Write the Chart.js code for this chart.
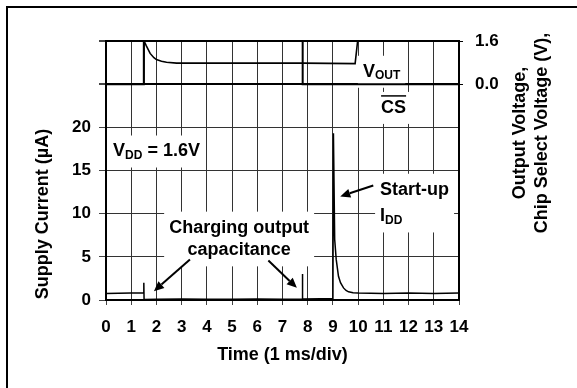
<!DOCTYPE html>
<html>
<head>
<meta charset="utf-8">
<title>Start-up Supply Current</title>
<script src="https://cdn.jsdelivr.net/npm/chart.js@4/dist/chart.umd.min.js"></script>
<style>
  html, body { margin: 0; padding: 0; background: #fff; }
  #wrap { position: relative; width: 577px; height: 388px; }
</style>
</head>
<body>
<div id="wrap"><canvas id="startupChart" width="577" height="388"></canvas></div>
<script>
// axis ticks
const timeTicks = [0, 1, 2, 3, 4, 5, 6, 7, 8, 9, 10, 11, 12, 13, 14];
const currentTicks = [0, 5, 10, 15, 20];
const voltageTicks = [0.0, 1.6];

// supply current (uA) vs time (ms)
const currentTime = [0, 0.5, 1.0, 1.2, 1.49, 1.5, 1.51, 2, 3, 4, 5, 6, 7, 7.78, 7.79, 7.8,
  8.5, 9.0, 9.02, 9.07, 9.13, 9.22, 9.3, 9.42, 9.52, 9.62, 9.8, 10, 11, 12, 13, 14];
const supplyCurrent = [0.75, 0.78, 0.82, 0.8, 0.8, 2.0, 0.05, 0.08, 0.12, 0.1, 0.1, 0.12, 0.08, 0.1, 3.0, 0.12,
  0.15, 0.18, 19.3, 7.0, 4.7, 2.75, 2.0, 1.4, 1.1, 0.95, 0.85, 0.8, 0.75, 0.8, 0.76, 0.8];

// output voltage (V)
const voutTime = [0, 1.5, 1.51, 1.6, 1.75, 1.9, 2.0, 2.2, 2.4, 2.8, 7.8, 9.88, 9.98, 14];
const outputVoltage = [0, 0, 1.6, 1.42, 1.14, 0.98, 0.91, 0.85, 0.81, 0.78, 0.78, 0.76, 1.6, 1.6];

// chip select (V)
const csTime = [0, 1.5, 1.5, 7.8, 7.8, 14];
const chipSelect = [0, 0, 1.6, 1.6, 0, 0];

const FONT = '"Liberation Sans", Arial, Helvetica, sans-serif';
const GRID = '#333333';

// text notes: [text, size, dy] runs per line, position in data units
const notes = [
  { x: 0.28, y: 17.2, scale: 'y', align: 'left', lead: 0,
    lines: [[['V', 18], ['DD', 12, 4], [' = 1.6V', 18]]] },
  { x: 5.28, y: 8.38, scale: 'y', align: 'center', lead: 22.7,
    lines: [[['Charging output', 18]], [['capacitance', 18]]] },
  { x: 10.87, y: 12.77, scale: 'y', align: 'left', lead: 26.7,
    lines: [[['Start-up', 18]], [['I', 18], ['DD', 12, 4]]] },
  { x: 10.19, y: 0.46, scale: 'y2', align: 'left', lead: 0,
    lines: [[['V', 18], ['OUT', 12, 4]]] },
  { x: 10.91, y: -0.88, scale: 'y2', align: 'left', lead: 0, overline: true,
    lines: [[['CS', 18]]] }
];

const arrows = [
  { from: [10.6, 13.27], to: [9.29, 12.0] },
  { from: [3.33, 4.68], to: [1.9, 1.02] },
  { from: [6.44, 4.57], to: [7.57, 1.41] }
];

function runWidth(ctx, runs) {
  let w = 0;
  runs.forEach(r => {
    ctx.font = `bold ${r[1]}px ${FONT}`;
    w += ctx.measureText(r[0]).width;
  });
  return w;
}

function noteLayout(chart, ctx, n) {
  const px = chart.scales.x.getPixelForValue(n.x);
  const py = chart.scales[n.scale].getPixelForValue(n.y);
  const widths = n.lines.map(l => runWidth(ctx, l));
  const w = Math.max(...widths);
  const left = n.align === 'center' ? px - w / 2 : px;
  return { px, py, widths, w, left };
}

const notesPlugin = {
  id: 'notes',
  beforeDatasetsDraw(chart) {
    // white boxes behind the notes hide the grid there
    const ctx = chart.ctx;
    ctx.save();
    ctx.fillStyle = '#fff';
    notes.forEach(n => {
      const L = noteLayout(chart, ctx, n);
      const h = (n.lines.length - 1) * n.lead;
      ctx.fillRect(L.left - 5, L.py - 16, L.w + 10, h + 32);
    });
    ctx.restore();
  },
  afterDatasetsDraw(chart) {
    const ctx = chart.ctx;
    const xs = chart.scales.x, ys = chart.scales.y;
    ctx.save();
    ctx.fillStyle = '#000';
    ctx.strokeStyle = '#000';
    ctx.textBaseline = 'middle';
    ctx.textAlign = 'left';
    notes.forEach(n => {
      const L = noteLayout(chart, ctx, n);
      n.lines.forEach((line, i) => {
        let cx = n.align === 'center' ? L.px - L.widths[i] / 2 : L.px;
        const cy = L.py + i * n.lead;
        line.forEach(r => {
          ctx.font = `bold ${r[1]}px ${FONT}`;
          ctx.fillText(r[0], cx, cy + (r[2] || 0));
          cx += ctx.measureText(r[0]).width;
        });
      });
      if (n.overline) {
        ctx.lineWidth = 1.5;
        ctx.beginPath();
        ctx.moveTo(L.left, L.py - 12);
        ctx.lineTo(L.left + L.w, L.py - 12);
        ctx.stroke();
      }
    });

    // arrows
    ctx.lineWidth = 2;
    arrows.forEach(a => {
      const x1 = xs.getPixelForValue(a.from[0]), y1 = ys.getPixelForValue(a.from[1]);
      const x2 = xs.getPixelForValue(a.to[0]), y2 = ys.getPixelForValue(a.to[1]);
      const ang = Math.atan2(y2 - y1, x2 - x1);
      const len = 10, half = 4.5;
      const bx = x2 - len * Math.cos(ang), by = y2 - len * Math.sin(ang);
      ctx.beginPath();
      ctx.moveTo(x1, y1);
      ctx.lineTo(bx, by);
      ctx.stroke();
      ctx.beginPath();
      ctx.moveTo(x2, y2);
      ctx.lineTo(bx + half * Math.sin(ang), by - half * Math.cos(ang));
      ctx.lineTo(bx - half * Math.sin(ang), by + half * Math.cos(ang));
      ctx.closePath();
      ctx.fill();
    });
    ctx.restore();
  },
  afterDraw(chart) {
    const ctx = chart.ctx;
    const area = chart.chartArea;
    ctx.save();
    ctx.fillStyle = '#000';
    ctx.strokeStyle = '#000';
    ctx.font = `bold 18px ${FONT}`;
    ctx.textAlign = 'center';
    ctx.textBaseline = 'middle';

    // axis titles
    ctx.fillText('Time (1 ms/div)', (area.left + area.right) / 2, 355);

    ctx.save();
    ctx.translate(43, 214);
    ctx.rotate(-Math.PI / 2);
    ctx.fillText('Supply Current (\u00B5A)', 0, 0);
    ctx.restore();

    ctx.save();
    ctx.translate(520, 133);
    ctx.rotate(-Math.PI / 2);
    ctx.fillText('Output Voltage,', 0, 0);
    ctx.fillText('Chip Select Voltage (V),', 0, 22);
    ctx.restore();

    // top edge of the plot
    ctx.lineWidth = 2;
    ctx.beginPath();
    ctx.moveTo(area.left, area.top);
    ctx.lineTo(area.right, area.top);
    ctx.stroke();

    // outer frame
    ctx.beginPath();
    ctx.moveTo(7, 388);
    ctx.lineTo(7, 7);
    ctx.lineTo(577, 7);
    ctx.stroke();
    ctx.restore();
  }
};

const toPoints = (xs, ys) => xs.map((t, i) => ({ x: t, y: ys[i] }));

const tickFont = { family: FONT, size: 17, weight: 'bold' };

new Chart(document.getElementById('startupChart').getContext('2d'), {
  type: 'scatter',
  data: {
    datasets: [
      {
        label: 'Supply Current',
        data: toPoints(currentTime, supplyCurrent),
        yAxisID: 'y',
        showLine: true,
        borderColor: '#000',
        borderWidth: 1.5,
        pointRadius: 0,
        tension: 0
      },
      {
        label: 'VOUT',
        data: toPoints(voutTime, outputVoltage),
        yAxisID: 'y2',
        showLine: true,
        borderColor: '#000',
        borderWidth: 1.6,
        pointRadius: 0,
        tension: 0
      },
      {
        label: 'CS',
        data: toPoints(csTime, chipSelect),
        yAxisID: 'y2',
        showLine: true,
        borderColor: '#000',
        borderWidth: 2,
        pointRadius: 0,
        tension: 0
      }
    ]
  },
  options: {
    responsive: false,
    animation: false,
    devicePixelRatio: 1,
    layout: { padding: { top: 41, left: 0, right: 0, bottom: 0 } },
    plugins: {
      legend: { display: false },
      tooltip: { enabled: false },
      title: { display: false }
    },
    scales: {
      x: {
        type: 'linear',
        min: 0,
        max: 14,
        afterBuildTicks: s => { s.ticks = timeTicks.map(v => ({ value: v })); },
        afterFit: s => { s.height = 88; },
        ticks: { color: '#000', font: tickFont, padding: 12, maxRotation: 0, autoSkip: false },
        grid: { color: GRID, lineWidth: 1, tickLength: 5, tickColor: '#444' },
        border: { color: '#000', width: 2 }
      },
      y: {
        position: 'left',
        min: 0,
        max: 30,
        afterBuildTicks: s => { s.ticks = [0, 5, 10, 15, 20, 25, 30].map(v => ({ value: v })); },
        afterFit: s => { s.width = 106; },
        ticks: {
          color: '#000',
          font: tickFont,
          padding: 8,
          callback: v => (currentTicks.includes(v) ? String(v) : '')
        },
        grid: {
          color: c => (c.tick && c.tick.value >= 25 ? '#000' : GRID),
          lineWidth: c => (c.tick && c.tick.value >= 25 ? 2 : 1),
          tickLength: 7,
          tickColor: '#444'
        },
        border: { color: '#000', width: 2 }
      },
      y2: {
        position: 'right',
        min: -8,
        max: 1.6,
        afterBuildTicks: s => { s.ticks = voltageTicks.map(v => ({ value: v })); },
        afterFit: s => { s.width = 118; },
        ticks: { color: '#000', font: tickFont, padding: 12, callback: v => v.toFixed(1) },
        grid: { drawOnChartArea: false, tickLength: 4, tickColor: '#000' },
        border: { color: '#000', width: 2 }
      }
    }
  },
  plugins: [notesPlugin]
});
</script>
</body>
</html>
